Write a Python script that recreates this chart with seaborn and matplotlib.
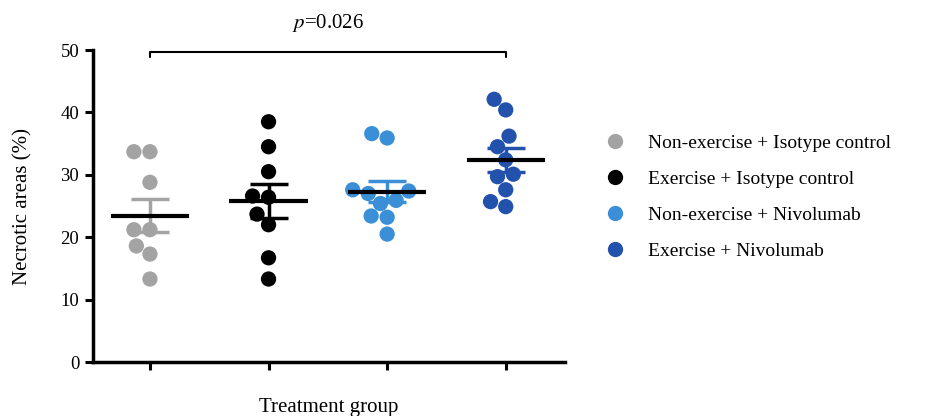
import numpy as np
import pandas as pd
import matplotlib
matplotlib.use("Agg")
import matplotlib.pyplot as plt
import seaborn as sns

# ── Data ─────────────────────────────────────────────────────
groups = [
    "Non-exercise + Isotype control",
    "Exercise + Isotype control",
    "Non-exercise + Nivolumab",
    "Exercise + Nivolumab",
]
non_ex_iso = [33.7, 33.7, 28.8, 21.2, 21.2, 18.6, 17.3, 13.3]
ex_iso = [38.5, 34.5, 30.5, 26.6, 26.4, 23.7, 22.0, 16.7, 13.3]
non_ex_nivo = [35.9, 36.6, 27.4, 27.6, 27.0, 25.9, 25.4, 23.4, 23.2, 20.5]
ex_nivo = [42.1, 40.4, 36.2, 34.5, 32.4, 30.1, 29.7, 27.6, 25.7, 24.9]
colors = ["#a3a3a3", "#000000", "#3a8fd6", "#2352ad"]
y_ticks = [0, 10, 20, 30, 40, 50]
p_text = "0.026"

values = [non_ex_iso, ex_iso, non_ex_nivo, ex_nivo]
df = pd.DataFrame({
    "group": [g for g, v in zip(groups, values) for _ in v],
    "value": [x for v in values for x in v],
})

# ── Style ────────────────────────────────────────────────────
sns.set_style("ticks")
plt.rcParams["font.family"] = ["Liberation Serif", "DejaVu Serif"]
plt.rcParams["mathtext.fontset"] = "stix"
for k in ["text.color", "axes.labelcolor", "xtick.color", "ytick.color", "axes.edgecolor"]:
    plt.rcParams[k] = "black"

fig = plt.figure(figsize=(9.33, 4.16), dpi=100)
ax = fig.add_axes([0.0997, 0.1298, 0.5059, 0.75])

sns.swarmplot(
    data=df, x="group", y="value", hue="group", order=groups,
    hue_order=groups, palette=colors, size=11, linewidth=0, ax=ax,
    legend=True,
)

# mean ± SEM
for i, v in enumerate(values):
    arr = np.array(v)
    m = arr.mean()
    sem = arr.std(ddof=1) / np.sqrt(len(arr))
    ax.vlines(i, m - sem, m + sem, color=colors[i], lw=2.5, zorder=3)
    ax.hlines([m - sem, m + sem], i - 0.16, i + 0.16, color=colors[i], lw=2.5, zorder=3)
    ax.hlines(m, i - 0.33, i + 0.33, color="black", lw=3, zorder=4)

ax.set_xlim(-0.48, 3.5)
ax.set_ylim(0, 50)
ax.set_yticks(y_ticks)
ax.set_xticks(range(4))
ax.set_xticklabels([])
ax.set_xlabel("Treatment group", fontsize=15, labelpad=16)
ax.set_ylabel("Necrotic areas (%)", fontsize=15, labelpad=20)
ax.tick_params(axis="both", width=2.2, length=6, labelsize=13.5, pad=4)
for s in ["left", "bottom"]:
    ax.spines[s].set_linewidth(2.5)
sns.despine(ax=ax)

# significance bracket
ax.plot([0, 0, 3, 3], [48.9, 49.7, 49.7, 48.9], color="black", lw=1.5, clip_on=False)
ax.text(1.5, 52.5, "$p$=" + p_text, ha="center", va="bottom", fontsize=15)

# legend
leg = ax.legend(
    loc="upper left", bbox_to_anchor=(0.62, 0.72), bbox_transform=fig.transFigure,
    frameon=False, fontsize=14, handletextpad=0.7, labelspacing=0.95,
    markerscale=1.0,
)

fig.savefig("out.png", dpi=100)
